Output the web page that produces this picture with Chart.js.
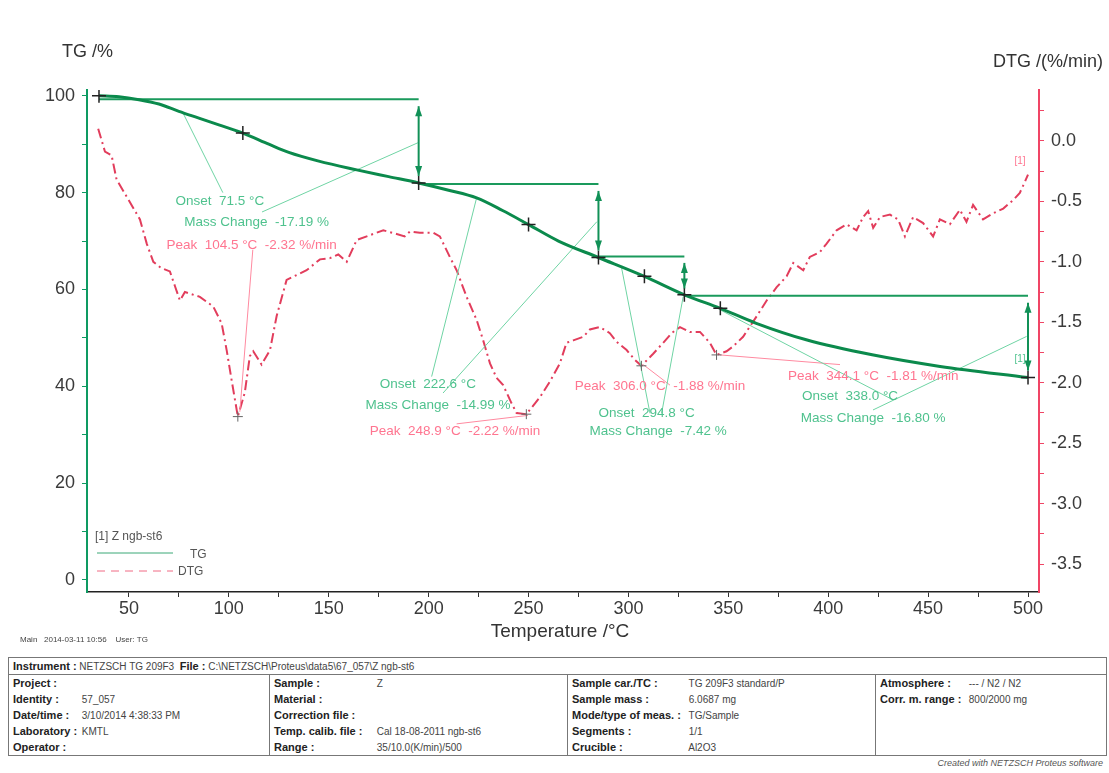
<!DOCTYPE html>
<html>
<head>
<meta charset="utf-8">
<script src="https://cdn.jsdelivr.net/npm/chart.js@4.4.0/dist/chart.umd.min.js"></script>
<style>
  body { margin: 0; background: #fff; }
  #wrap { position: relative; width: 1109px; height: 773px; overflow: hidden; }
  #tga { position: absolute; left: 0; top: 0; }
  #info { position: absolute; left: 8px; top: 657px; width: 1099px; border-collapse: collapse;
          font-family: 'Liberation Sans Narrow', 'Liberation Sans', Arial, sans-serif; font-size: 10px; color: #444; }
  #info td { border: 1px solid #777; vertical-align: top; padding: 0 4px; }
  #info .row { height: 16px; line-height: 16px; white-space: nowrap; }
  #info b { color: #222; font-size: 11px; display: inline-block; }
  #credit { position: absolute; right: 6px; top: 758px; font: italic 9px 'Liberation Sans', Arial, sans-serif; color: #555; }
</style>
</head>
<body>
<div id="wrap">
  <canvas id="tga" width="1109" height="650"></canvas>
  <table id="info">
    <tr><td colspan="4"><div class="row"><b>Instrument :</b> NETZSCH TG 209F3 &nbsp;<b>File :</b> C:\NETZSCH\Proteus\data5\67_057\Z ngb-st6</div></td></tr>
    <tr>
      <td style="width:252px">
        <div class="row"><b style="width:66px">Project :</b></div>
        <div class="row"><b style="width:66px">Identity :</b> 57_057</div>
        <div class="row"><b style="width:66px">Date/time :</b> 3/10/2014 4:38:33 PM</div>
        <div class="row"><b style="width:66px">Laboratory :</b> KMTL</div>
        <div class="row"><b style="width:66px">Operator :</b></div>
      </td>
      <td style="width:289px">
        <div class="row"><b style="width:100px">Sample :</b> Z</div>
        <div class="row"><b style="width:100px">Material :</b></div>
        <div class="row"><b style="width:100px">Correction file :</b></div>
        <div class="row"><b style="width:100px">Temp. calib. file :</b> Cal 18-08-2011 ngb-st6</div>
        <div class="row"><b style="width:100px">Range :</b> 35/10.0(K/min)/500</div>
      </td>
      <td style="width:299px">
        <div class="row"><b style="width:114px">Sample car./TC :</b> TG 209F3 standard/P</div>
        <div class="row"><b style="width:114px">Sample mass :</b> 6.0687 mg</div>
        <div class="row"><b style="width:114px">Mode/type of meas. :</b> TG/Sample</div>
        <div class="row"><b style="width:114px">Segments :</b> 1/1</div>
        <div class="row"><b style="width:114px">Crucible :</b> Al2O3</div>
      </td>
      <td>
        <div class="row"><b style="width:86px">Atmosphere :</b> --- / N2 / N2</div>
        <div class="row"><b style="width:86px">Corr. m. range :</b> 800/2000 mg</div>
        <div class="row"></div>
        <div class="row"></div>
        <div class="row"></div>
      </td>
    </tr>
  </table>
  <div id="credit">Created with NETZSCH Proteus software</div>
</div>
<script>
// TG curve (mass %)
const tgTemp = [35, 45, 55, 65, 75, 85, 95, 107, 120, 130, 145, 164, 180, 195, 210, 224, 237, 250, 265, 285, 308, 328, 346, 364, 389, 422, 456, 500];
const tgMass = [100, 99.8, 99.2, 98.3, 96.8, 95.4, 94.0, 92.3, 90.0, 88.3, 86.5, 84.7, 83.3, 82.0, 80.5, 78.9, 76.3, 73.4, 70.0, 66.6, 62.7, 58.9, 56.1, 53.0, 49.6, 46.5, 44.1, 41.8];

// DTG curve (%/min)
const dtgTemp = [34.6, 38, 41.3, 43.8, 48.8, 55.5, 58.9, 62.2, 66, 70.5, 73, 75.5, 78, 85.5, 92.2, 96.4, 98.9, 101.4, 104.5,
  108, 110.5, 112.2, 116.4, 120.6, 123.9, 128.9, 133.9, 138.9, 145.6, 150.6, 154.8, 159, 164, 170.6, 177.3, 184, 188,
  190.6, 195.6, 202.3, 205.6, 210.6, 214, 219, 224, 227.3, 230.7, 234, 237.3, 241.5, 244, 248.9, 255.7, 260.7, 265.7,
  269, 272.4, 277.4, 280.7, 285.7, 290.7, 294, 299.1, 303.2, 306.5, 312.4, 317.4, 321.6, 325.8, 330.8, 335.8, 340.8,
  344.1, 349.1, 352.4, 357.4, 364.2, 369.2, 374.2, 379.2, 382.5, 387.5, 390.8, 395.8, 399.2, 404.2, 409.2, 414.2,
  417.5, 420, 422.5, 425.9, 430.9, 435, 438.4, 442.5, 447.5, 452.5, 455.9, 460.9, 465.9, 469.2, 472.5, 477.5, 482.5,
  487.6, 492.6, 495.9, 498.4, 500];
const dtgRate = [0.10, -0.09, -0.12, -0.32, -0.46, -0.65, -0.85, -1.00, -1.05, -1.08, -1.20, -1.32, -1.25, -1.29, -1.37, -1.51, -1.73, -1.98, -2.28,
  -2.08, -1.78, -1.74, -1.85, -1.73, -1.45, -1.15, -1.11, -1.07, -0.98, -0.97, -0.94, -1.00, -0.82, -0.78, -0.74, -0.77, -0.79,
  -0.75, -0.76, -0.76, -0.79, -0.96, -1.07, -1.29, -1.48, -1.65, -1.84, -1.96, -2.02, -2.17, -2.25, -2.26, -2.12, -1.99, -1.84,
  -1.67, -1.65, -1.62, -1.56, -1.54, -1.59, -1.66, -1.73, -1.81, -1.86, -1.76, -1.67, -1.59, -1.54, -1.58, -1.58, -1.67,
  -1.77, -1.74, -1.70, -1.62, -1.45, -1.32, -1.21, -1.12, -1.01, -1.07, -0.96, -0.92, -0.85, -0.74, -0.69, -0.74,
  -0.63, -0.58, -0.72, -0.63, -0.61, -0.65, -0.79, -0.63, -0.68, -0.79, -0.65, -0.69, -0.57, -0.67, -0.53, -0.65, -0.60,
  -0.56, -0.49, -0.43, -0.34, -0.28];

// mass change steps
const stepTemp = [35, 195, 285, 328, 500];
const stepLevel = [99.3, 81.8, 66.8, 58.7];
const stepEnd = [82.0, 66.6, 58.9, 41.8];

// evaluation markers
const tgMarkTemp = [35, 107, 195, 250, 285, 308, 328, 346, 500];
const tgMarkMass = [100, 92.3, 82.0, 73.4, 66.6, 62.7, 58.9, 56.1, 41.8];
const peakTemp = [104.5, 248.9, 306.5, 344.1];
const peakRate = [-2.28, -2.26, -1.86, -1.77];

// tick labels
const xTickLabels = [50, 100, 150, 200, 250, 300, 350, 400, 450, 500];
const tgTickLabels = [0, 20, 40, 60, 80, 100];
const dtgTickLabels = [0.0, -0.5, -1.0, -1.5, -2.0, -2.5, -3.0, -3.5];

// onset / mass change pointer lines (on TG axis) and peak pointers (on DTG axis)
const onsetLines = [
  [[77, 96.5], [97, 80]], [[116.6, 76], [194.6, 90.3]],
  [[224, 78.9], [201.5, 42]], [[207.2, 38.6], [284.2, 74]],
  [[296.6, 64.4], [310.8, 34.4]], [[327.4, 58.5], [316.6, 34.4]],
  [[345.8, 55.8], [432.4, 37.2]], [[422.4, 35.1], [499.3, 50.3]]
];
const peakLines = [
  [[112, -0.90], [105.5, -2.24]], [[214, -2.34], [249.7, -2.27]],
  [[307.4, -1.85], [320.8, -2.02]], [[345.8, -1.77], [405.9, -1.85]]
];

const GREEN_TXT = '#4fc28e', RED_TXT = '#ff7590';
const notes = [
  ['Onset  71.5 °C', 95.5, 78.2, GREEN_TXT],
  ['Mass Change  -17.19 %', 113.9, 73.9, GREEN_TXT],
  ['Peak  104.5 °C  -2.32 %/min', 111.4, 69.2, RED_TXT],
  ['Onset  222.6 °C', 199.6, 40.5, GREEN_TXT],
  ['Mass Change  -14.99 %', 204.7, 36.0, GREEN_TXT],
  ['Peak  248.9 °C  -2.22 %/min', 213.2, 30.6, RED_TXT],
  ['Peak  306.0 °C  -1.88 %/min', 315.8, 39.9, RED_TXT],
  ['Onset  294.8 °C', 309.1, 34.4, GREEN_TXT],
  ['Mass Change  -7.42 %', 314.9, 30.6, GREEN_TXT],
  ['Peak  344.1 °C  -1.81 %/min', 422.5, 42.0, RED_TXT],
  ['Onset  338.0 °C', 410.9, 37.9, GREEN_TXT],
  ['Mass Change  -16.80 %', 422.5, 33.4, GREEN_TXT],
  ['[1]', 496, 45.5, GREEN_TXT],
  ['[1]', 496, 86.4, RED_TXT]
];

function pts(xs, ys) { return xs.map((x, i) => ({ x: x, y: ys[i] })); }
function segs(list) {
  const out = [];
  list.forEach(s => { out.push({ x: s[0][0], y: s[0][1] }, { x: s[1][0], y: s[1][1] }, { x: s[1][0], y: null }); });
  return out;
}
const stepLines = [];
stepLevel.forEach((lv, i) => {
  stepLines.push({ x: stepTemp[i], y: lv }, { x: stepTemp[i + 1], y: lv }, { x: stepTemp[i + 1], y: null });
});

const decor = {
  id: 'decor',
  afterDatasetsDraw(chart) {
    const { ctx, chartArea, scales } = chart;
    const x = scales.x, yt = scales.yTG;
    ctx.save();

    // double arrows for mass changes
    ctx.strokeStyle = '#119157';
    ctx.fillStyle = '#119157';
    ctx.lineWidth = 2;
    const head = (px, py, dir) => {
      ctx.beginPath();
      ctx.moveTo(px, py);
      ctx.lineTo(px - 3.5, py - dir * 10);
      ctx.lineTo(px + 3.5, py - dir * 10);
      ctx.closePath();
      ctx.fill();
    };
    stepLevel.forEach((lv, i) => {
      const px = x.getPixelForValue(stepTemp[i + 1]);
      const ya = yt.getPixelForValue(lv), yb = yt.getPixelForValue(stepEnd[i]);
      const gap = Math.min(7, (yb - ya) / 6);
      ctx.beginPath();
      ctx.moveTo(px, ya + gap);
      ctx.lineTo(px, yb - gap);
      ctx.stroke();
      head(px, ya + gap, -1);
      head(px, yb - gap, 1);
    });

    // annotation texts
    ctx.textAlign = 'center';
    ctx.textBaseline = 'middle';
    notes.forEach(n => {
      ctx.font = (n[0] === '[1]' ? '10px' : '13.5px') + ' "Liberation Sans", Arial, sans-serif';
      ctx.fillStyle = n[3];
      ctx.fillText(n[0], x.getPixelForValue(n[1]), yt.getPixelForValue(n[2]));
    });

    // legend
    const lx = chartArea.left + 8, ly = chartArea.bottom - 55;
    ctx.font = '12px "Liberation Sans", Arial, sans-serif';
    ctx.textAlign = 'left';
    ctx.fillStyle = '#555';
    ctx.fillText('[1] Z ngb-st6', lx, ly);
    ctx.lineWidth = 1;
    ctx.strokeStyle = '#3aa877';
    ctx.beginPath(); ctx.moveTo(lx + 2, ly + 16); ctx.lineTo(lx + 78, ly + 16); ctx.stroke();
    ctx.fillText('TG', lx + 95, ly + 18);
    ctx.strokeStyle = '#f06a84';
    ctx.setLineDash([8, 6]);
    ctx.beginPath(); ctx.moveTo(lx + 2, ly + 34); ctx.lineTo(lx + 78, ly + 34); ctx.stroke();
    ctx.setLineDash([]);
    ctx.fillText('DTG', lx + 83, ly + 35);

    // axis titles
    ctx.fillStyle = '#333';
    ctx.font = '18px "Liberation Sans", Arial, sans-serif';
    ctx.fillText('TG /%', 62, 52);
    ctx.textAlign = 'right';
    ctx.fillText('DTG /(%/min)', 1103, 62);
    ctx.textAlign = 'center';
    ctx.font = '19px "Liberation Sans", Arial, sans-serif';
    ctx.fillText('Temperature /°C', 560, 632);
    ctx.textAlign = 'left';
    ctx.font = '8px "Liberation Sans", Arial, sans-serif';
    ctx.fillStyle = '#444';
    ctx.fillText('Main   2014-03-11 10:56    User: TG', 20, 640);
    ctx.restore();
  }
};

const FONT = { family: '"Liberation Sans", Arial, sans-serif', size: 18 };

new Chart(document.getElementById('tga'), {
  type: 'line',
  data: {
    datasets: [
      { label: 'TG marks', data: pts(tgMarkTemp, tgMarkMass), yAxisID: 'yTG', showLine: false,
        pointStyle: 'cross', pointRadius: 7, borderColor: '#222', borderWidth: 1.5 },
      { label: 'DTG peaks', data: pts(peakTemp, peakRate), yAxisID: 'yDTG', showLine: false,
        pointStyle: 'cross', pointRadius: 5, borderColor: '#666', borderWidth: 1 },
      { label: 'TG', data: pts(tgTemp, tgMass), yAxisID: 'yTG', borderColor: '#0b8a4c', borderWidth: 3,
        pointRadius: 0, cubicInterpolationMode: 'monotone' },
      { label: 'steps', data: stepLines, yAxisID: 'yTG', borderColor: '#1a9a5c', borderWidth: 2,
        pointRadius: 0, spanGaps: false },
      { label: 'onset', data: segs(onsetLines), yAxisID: 'yTG', borderColor: '#6fd4a4', borderWidth: 1,
        pointRadius: 0, spanGaps: false },
      { label: 'peak', data: segs(peakLines), yAxisID: 'yDTG', borderColor: '#ff8aa0', borderWidth: 1,
        pointRadius: 0, spanGaps: false },
      { label: 'DTG', data: pts(dtgTemp, dtgRate), yAxisID: 'yDTG', borderColor: '#e23d5c', borderWidth: 2,
        borderDash: [10, 4, 2, 4], pointRadius: 0, tension: 0 }
    ]
  },
  options: {
    responsive: false,
    animation: false,
    layout: { padding: { top: 90, left: 0, right: 0, bottom: 0 } },
    plugins: { legend: { display: false }, tooltip: { enabled: false } },
    scales: {
      x: {
        type: 'linear', position: 'bottom', min: 29, max: 505.5,
        border: { color: '#222', width: 1.5 },
        grid: { drawOnChartArea: false, tickLength: 5, color: '#333' },
        ticks: { font: FONT, color: '#3a3a3a', padding: 1, autoSkip: false, maxRotation: 0,
          callback: v => xTickLabels.includes(v) ? String(v) : '' },
        afterBuildTicks: s => {
          const t = [];
          for (let v = 50; v <= 500; v += 25) t.push({ value: v });
          s.ticks = t;
        },
        afterFit: s => { s.height = 58; }
      },
      yTG: {
        type: 'linear', position: 'left', min: -2.5, max: 101.2,
        border: { color: '#0e9a62', width: 2 },
        grid: { drawOnChartArea: false, tickLength: 5, color: '#0e9a62' },
        ticks: { font: FONT, color: '#3a3a3a', padding: 7, autoSkip: false,
          callback: v => tgTickLabels.includes(v) ? String(v) : '' },
        afterBuildTicks: s => {
          const t = [];
          for (let v = 0; v <= 100; v += 10) t.push({ value: v });
          s.ticks = t;
        },
        afterFit: s => { s.width = 87; }
      },
      yDTG: {
        type: 'linear', position: 'right', min: -3.73, max: 0.42,
        border: { color: '#f04565', width: 2 },
        grid: { drawOnChartArea: false, tickLength: 5, color: '#f04565' },
        ticks: { font: FONT, color: '#3a3a3a', padding: 7, autoSkip: false,
          callback: v => dtgTickLabels.some(d => Math.abs(d - v) < 1e-6) ? v.toFixed(1) : '' },
        afterBuildTicks: s => {
          const t = [];
          for (let k = -14; k <= 1; k++) t.push({ value: Math.round(k * 25) / 100 });
          s.ticks = t;
        },
        afterFit: s => { s.width = 70; }
      }
    }
  },
  plugins: [decor]
});
</script>
</body>
</html>
